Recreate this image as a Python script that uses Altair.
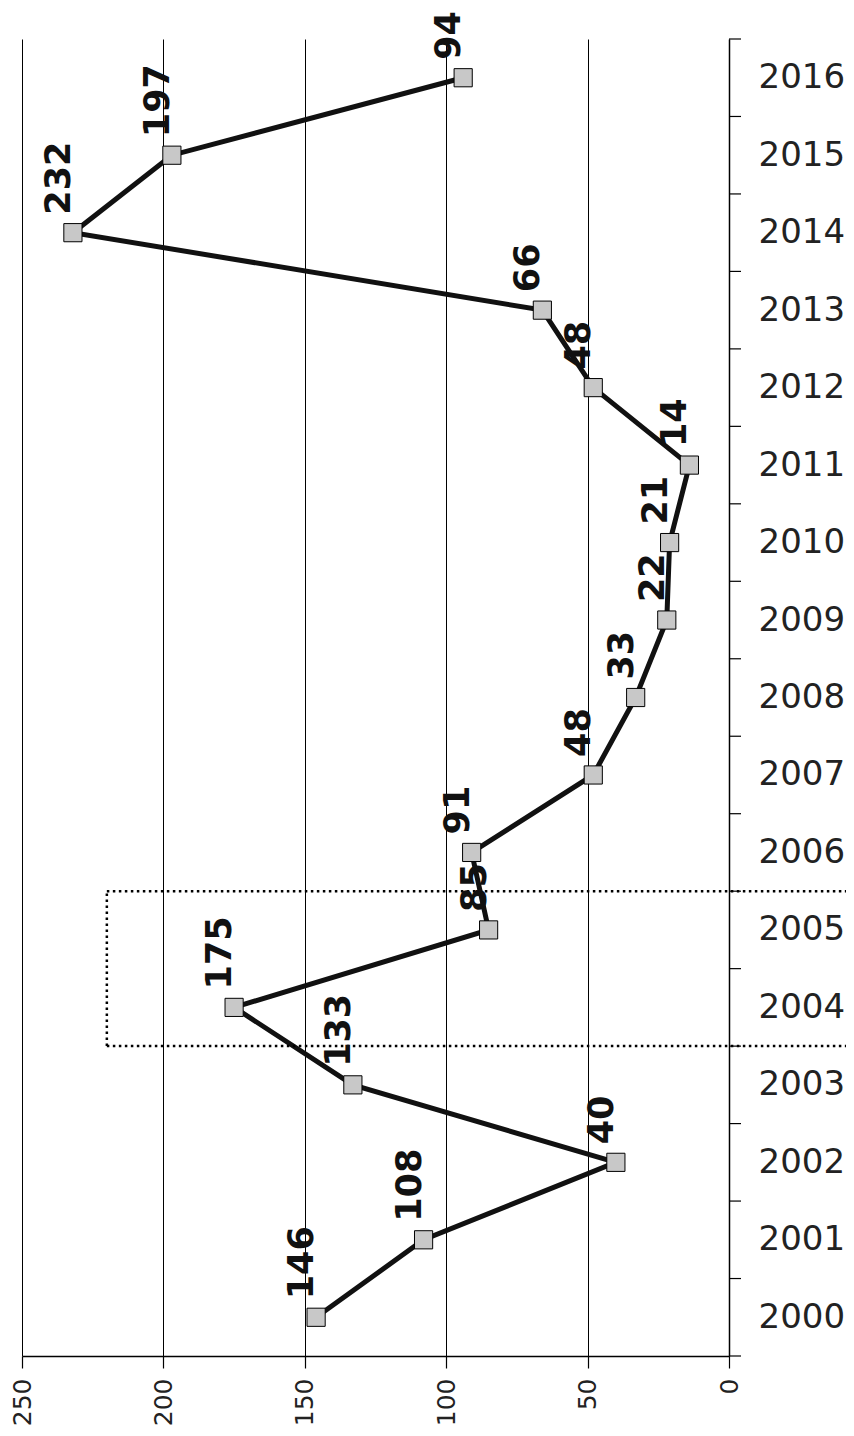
import altair as alt
import pandas as pd

years = [2000, 2001, 2002, 2003, 2004, 2005, 2006, 2007, 2008,
         2009, 2010, 2011, 2012, 2013, 2014, 2015, 2016]
values = [146, 108, 40, 133, 175, 85, 91, 48, 33,
          22, 21, 14, 48, 66, 232, 197, 94]
value_ticks = [0, 50, 100, 150, 200, 250]
highlight_years = [2004, 2005]
highlight_value = 220

df = pd.DataFrame({"year": years, "value": values})
bounds = pd.DataFrame({"b": [years[0] - 0.5] + [y + 0.5 for y in years]})
hl_lines = pd.DataFrame({"b": [highlight_years[0] - 0.5, highlight_years[-1] + 0.5],
                         "v": [highlight_value, highlight_value]})
hl_vert = pd.DataFrame({"b": [highlight_years[0] - 0.5], "b2": [highlight_years[-1] + 0.5],
                        "v": [highlight_value]})

W, H = 707, 1317
FONT = "DejaVu Sans"

xscale = alt.Scale(domain=[0, 250], reverse=True, nice=False, zero=True)
yscale = alt.Scale(domain=[years[0] - 0.5, years[-1] + 0.5], nice=False, zero=False)

xaxis = alt.Axis(values=value_ticks, grid=True, gridColor="black", gridWidth=1,
                 gridOpacity=1, domainColor="black", domainWidth=1.5,
                 tickColor="black", tickSize=12, tickWidth=1.2,
                 labelAngle=270, labelFont=FONT, labelFontSize=25,
                 labelColor="#222", labelPadding=10, title=None)
yaxis = alt.Axis(orient="right", values=years, format="d", grid=False,
                 domainColor="black", domainWidth=1.5, ticks=False,
                 labelFont=FONT, labelFontSize=34, labelColor="#222",
                 labelPadding=29, labelAlign="left", labelBaseline="middle",
                 title=None)

base = alt.Chart(df)

line = base.mark_line(color="#111", strokeWidth=5).encode(
    x=alt.X("value:Q", scale=xscale, axis=xaxis),
    y=alt.Y("year:Q", scale=yscale, axis=yaxis),
    order="year:Q",
)

points = base.mark_square(size=330, fill="#c8c8c8", stroke="black",
                          strokeWidth=1, opacity=1, fillOpacity=1).encode(
    x=alt.X("value:Q", scale=xscale),
    y=alt.Y("year:Q", scale=yscale),
)

labels = base.mark_text(angle=270, align="left", baseline="middle",
                        dx=18, dy=-14, font=FONT, fontSize=35,
                        fontWeight="bold", color="#111").encode(
    x=alt.X("value:Q", scale=xscale),
    y=alt.Y("year:Q", scale=yscale),
    text=alt.Text("value:Q"),
)

ticks = alt.Chart(bounds).mark_rule(color="black", strokeWidth=1.2).encode(
    y=alt.Y("b:Q", scale=yscale),
    x=alt.value(W),
    x2=alt.value(W + 12),
)

hl_h = alt.Chart(hl_lines).mark_rule(color="black", strokeWidth=2.5,
                                      strokeDash=[2.5, 3.5]).encode(
    y=alt.Y("b:Q", scale=yscale),
    x=alt.X("v:Q", scale=xscale),
    x2=alt.value(W + 125),
)

hl_v = alt.Chart(hl_vert).mark_rule(color="black", strokeWidth=2.5,
                                     strokeDash=[2.5, 3.5]).encode(
    x=alt.X("v:Q", scale=xscale),
    y=alt.Y("b:Q", scale=yscale),
    y2=alt.Y2("b2:Q"),
)

chart = alt.layer(line, hl_h, hl_v, ticks, points, labels).properties(
    width=W, height=H,
    background="white",
    autosize=alt.AutoSizeParams(type="none"),
    padding={"left": 14, "top": 31, "right": 117, "bottom": 72},
).configure_view(stroke=None, strokeWidth=0)

chart.save("out.html", embed_options={"renderer": "svg", "actions": False})
